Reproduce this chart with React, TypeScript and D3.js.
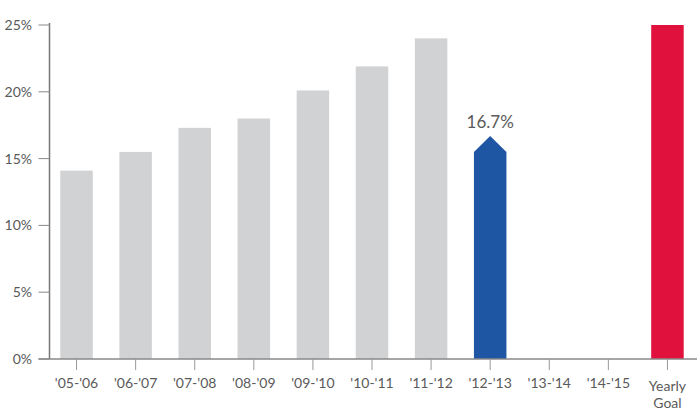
import React from 'react';
import * as d3 from 'd3';

// chart values
const seasons = ["'05-'06", "'06-'07", "'07-'08", "'08-'09", "'09-'10", "'10-'11", "'11-'12", "'12-'13", "'13-'14", "'14-'15", 'Yearly Goal'];
const pastValues = [14.1, 15.5, 17.3, 18.0, 20.1, 21.9, 24.0];
const currentSeason = "'12-'13";
const currentValue = 16.7;
const goalSeason = 'Yearly Goal';
const goalValue = 25;
const yTicks = [0, 5, 10, 15, 20, 25];

const width = 700;
const height = 415;
const margin = { top: 25, right: 3, bottom: 56, left: 47 };

const font = 'Lato, "Open Sans", sans-serif';
const textColor = '#5a5a5a';

const xScale = d3
  .scaleBand<string>()
  .domain(seasons)
  .range([margin.left, width - margin.right])
  .paddingInner(0.45)
  .paddingOuter(0.225);

const yScale = d3
  .scaleLinear()
  .domain([0, 25])
  .range([height - margin.bottom, margin.top]);

export default function App() {
  const y0 = yScale(0);
  const bw = xScale.bandwidth();
  const axisX = margin.left + 2.5;

  // blue arrow for current season
  const cx = xScale(currentSeason)!;
  const peak = yScale(currentValue);
  const headDepth = 16;
  const arrow = d3.path();
  arrow.moveTo(cx, y0);
  arrow.lineTo(cx, peak + headDepth);
  arrow.lineTo(cx + bw / 2, peak);
  arrow.lineTo(cx + bw, peak + headDepth);
  arrow.lineTo(cx + bw, y0);
  arrow.closePath();

  return (
    <svg width={width} height={height} style={{ position: 'absolute', left: 0, top: 0 }}>
      <rect width={width} height={height} fill="#fff" />

      {pastValues.map((v, i) => (
        <rect
          key={seasons[i]}
          x={xScale(seasons[i])}
          y={yScale(v)}
          width={bw}
          height={y0 - yScale(v)}
          fill="#d1d2d4"
        />
      ))}

      <path d={arrow.toString()} fill="#1f56a4" />
      <text
        x={cx + bw / 2}
        y={peak - 8}
        textAnchor="middle"
        fontFamily={font}
        fontSize={17}
        fill={textColor}
      >
        {currentValue}%
      </text>

      <rect
        x={xScale(goalSeason)}
        y={yScale(goalValue)}
        width={bw}
        height={y0 - yScale(goalValue)}
        fill="#e0113c"
      />

      {/* y axis */}
      <line x1={axisX} x2={axisX} y1={margin.top - 2} y2={y0} stroke="#777" strokeWidth={1.5} />
      {yTicks.map(t => (
        <g key={t}>
          <line x1={axisX - 11} x2={axisX} y1={yScale(t)} y2={yScale(t)} stroke="#888" strokeWidth={1} />
          <text
            x={32}
            y={yScale(t)}
            dy="0.35em"
            textAnchor="end"
            fontFamily={font}
            fontSize={14}
            fill={textColor}
          >
            {t}%
          </text>
        </g>
      ))}

      {/* x axis */}
      <line x1={axisX - 11} x2={width - 3} y1={y0} y2={y0} stroke="#888" strokeWidth={1.5} />
      {seasons.map(s => {
        const mx = xScale(s)! + bw / 2;
        const words = s === goalSeason ? ['Yearly', 'Goal'] : [s];
        return (
          <g key={s}>
            <line x1={mx} x2={mx} y1={y0} y2={y0 + 11} stroke="#999" strokeWidth={1} />
            {words.map((w, i) => (
              <text
                key={w}
                x={mx}
                y={y0 + (words.length > 1 ? 32 : 29) + i * 17}
                textAnchor="middle"
                fontFamily={font}
                fontSize={14}
                fill={textColor}
              >
                {w}
              </text>
            ))}
          </g>
        );
      })}
    </svg>
  );
}
